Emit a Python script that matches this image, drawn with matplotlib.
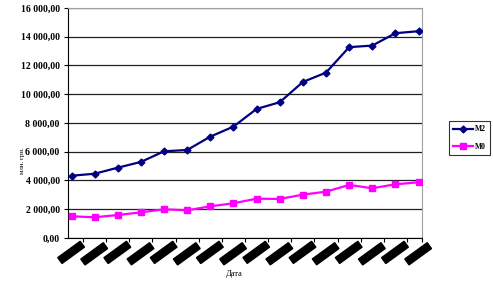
import matplotlib
matplotlib.use("Agg")
import matplotlib.pyplot as plt

dates = ["01.01.2004", "01.04.2004", "01.07.2004", "01.10.2004",
         "01.01.2005", "01.04.2005", "01.07.2005", "01.10.2005",
         "01.01.2006", "01.04.2006", "01.07.2006", "01.10.2006",
         "01.01.2007", "01.04.2007", "01.07.2007", "01.10.2007"]
m2 = [4330, 4470, 4890, 5290, 6030, 6120, 7050, 7745,
      8975, 9440, 10850, 11500, 13270, 13380, 14240, 14380]
m0 = [1510, 1440, 1600, 1785, 1995, 1925, 2205, 2415,
      2735, 2715, 3015, 3220, 3690, 3460, 3735, 3875]
y_ticks = [0, 2000, 4000, 6000, 8000, 10000, 12000, 14000, 16000]

serif = "Liberation Serif"

fig = plt.figure(figsize=(4.93, 2.82), dpi=100)
ax = fig.add_axes([0.138, 0.156, 0.718, 0.816])

x = list(range(len(dates)))
ax.plot(x, m2, color="#000080", lw=1.6, marker="D", ms=3.5, label="M2", zorder=3)
ax.plot(x, m0, color="#ff00ff", lw=1.6, marker="s", ms=5, label="M0", zorder=3)

ax.set_xlim(-0.15, len(dates) - 0.85)
ax.set_ylim(0, 16000)
ax.set_yticks(y_ticks)
ax.set_yticklabels([f"{v:,.2f}".replace(",", " ").replace(".", ",") for v in y_ticks],
                   fontsize=7, family=serif, fontweight="bold")
ax.grid(axis="y", color="#202020", lw=0.9)
ax.set_axisbelow(True)

for s in ["top", "right"]:
    ax.spines[s].set_color("#a0a0a0")
ax.spines["left"].set_color("black")
ax.spines["bottom"].set_color("black")
ax.tick_params(axis="y", length=3, width=0.8, pad=3)
ax.tick_params(axis="x", length=3, width=0.8)

ax.set_xticks([i + 0.5 for i in x[:-1]] + [len(dates) - 0.85])
ax.set_xticklabels([])
# date labels come out as solid black bars, as in the original
for i, d in enumerate(dates):
    off = -4 if i % 2 == 0 else -5
    ax.annotate(d, xy=(i, 0), xycoords="data", xytext=(6, off), textcoords="offset points",
                ha="right", va="top", rotation=36, rotation_mode="anchor",
                fontsize=3.9, color="black", family=serif, fontweight="bold",
                bbox=dict(boxstyle="square,pad=0.3", fc="black", ec="black"),
                annotation_clip=False)

fig.text(0.475, 0.015, "Дата", ha="center", va="bottom", fontsize=6, family=serif)
fig.text(0.045, 0.43, "млн. грн.", ha="center", va="center", rotation=90,
         fontsize=5, family=serif)

leg = fig.legend(loc="upper left", bbox_to_anchor=(0.902, 0.585),
                 prop={"family": serif, "weight": "bold", "size": 5.5},
                 frameon=True, fancybox=False, edgecolor="black",
                 handlelength=2.6, borderpad=0.6, labelspacing=1.2, handletextpad=0.2)
leg.get_frame().set_linewidth(0.8)

fig.savefig("out.png", dpi=100)
